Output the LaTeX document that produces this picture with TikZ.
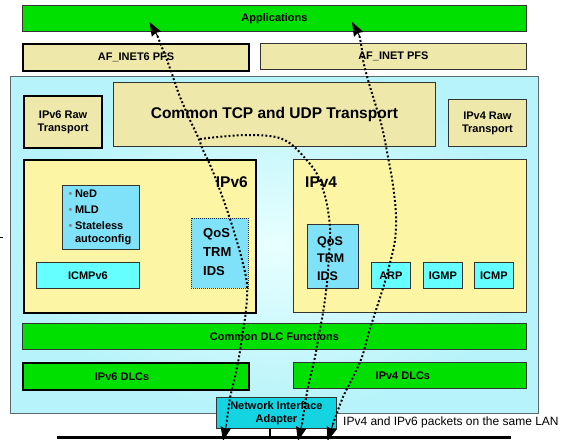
\documentclass[tikz,border=0pt]{standalone}
\usepackage{fontspec}
\setmainfont{Liberation Sans}
\usetikzlibrary{arrows.meta}

\definecolor{layergreen}{HTML}{00E000}
\definecolor{pfstan}{HTML}{EEE8AA}
\definecolor{ipyellow}{HTML}{FCF6A4}
\definecolor{svcblue}{HTML}{80E2F8}
\definecolor{protoaqua}{HTML}{66FFFF}
\definecolor{nicblue}{HTML}{14D4E2}
\definecolor{stackedge}{HTML}{5A6B6B}
\definecolor{stackinner}{HTML}{E8FFFF}
\definecolor{stackouter}{HTML}{B6F3FA}
\definecolor{boxedge}{HTML}{333333}
\definecolor{bulletgray}{HTML}{8A8A8A}
\definecolor{dotnavy}{HTML}{203050}

\newcommand\dotitem{\textcolor{bulletgray}{\char"2022}\hspace{2.5pt}}

\tikzset{
  box/.style={draw=boxedge, line width=0.8pt, inner sep=0pt, anchor=north west,
    align=center, font=\bfseries\fontsize{11}{13}\selectfont},
  heavy/.style={draw=black, line width=2.2pt},
  flow/.style={line width=2pt, dash pattern=on 1.9pt off 2.2pt, black},
  headtip/.style={solid, line width=1pt, draw=black, fill=black,
    -{Stealth[length=14pt, width=10.5pt, inset=1.5pt, fill=black]}},
  textnode/.style={inner sep=0pt, font=\bfseries\fontsize{11}{13}\selectfont},
}

\begin{document}
\begin{tikzpicture}[x=1pt, y=-1pt]
\useasboundingbox (0,0) rectangle (564,439);

% upper layers
\node[box, fill=layergreen, minimum width=504, minimum height=26] (apps) at (22,5) {Applications};
\node[box, heavy, fill=pfstan, minimum width=226, minimum height=27] (af6) at (22,43) {AF\_INET6 PFS};
\node[box, fill=pfstan, minimum width=266, minimum height=26] (af4) at (260,43) {AF\_INET PFS};

% the shared stack
\node[box, draw=stackedge, inner color=stackinner, outer color=stackouter,
      minimum width=528, minimum height=337] (stack) at (10,76) {};

\node[box, heavy, fill=pfstan, minimum width=78, minimum height=52] (raw6) at (23,95) {IPv6 Raw\\Transport};
\node[box, fill=pfstan, minimum width=322, minimum height=64,
      font=\bfseries\fontsize{15.5}{18}\selectfont] (tcp) at (113,82) {Common TCP and UDP Transport};
\node[box, fill=pfstan, minimum width=78, minimum height=47] (raw4) at (448,99) {IPv4 Raw\\Transport};

% IPv6 layer
\node[box, heavy, fill=ipyellow, minimum width=232, minimum height=153] (v6) at (23,159) {};
\node[textnode, anchor=east, font=\bfseries\fontsize{15.5}{18}\selectfont] (v6title) at (248,182) {IPv6};
\node[box, fill=svcblue, minimum width=77, minimum height=64] (nd) at (62,185) {};
\node[textnode, anchor=north west, align=left] (ndlist) at (68.5,189.5)
  {\dotitem NeD\\[3pt]\dotitem MLD\\[3pt]\dotitem Stateless\\\phantom{\dotitem}autoconfig};
\node[box, draw=dotnavy, dash pattern=on 1pt off 1pt, fill=svcblue,
      minimum width=57, minimum height=70] (qos6) at (191,218) {};
\node[textnode, anchor=north west, align=left, font=\bfseries\fontsize{13}{19}\selectfont] (qos6text) at (203,228.5) {QoS\\TRM\\IDS};
\node[box, fill=protoaqua, minimum width=103, minimum height=26] (icmp6) at (36,262) {ICMPv6};

% IPv4 layer
\node[box, fill=ipyellow, minimum width=233, minimum height=153] (v4) at (293,159) {};
\node[textnode, anchor=west, font=\bfseries\fontsize{15.5}{18}\selectfont] (v4title) at (305,182) {IPv4};
\node[box, fill=svcblue, minimum width=51, minimum height=64] (qos4) at (307,224) {};
\node[textnode, anchor=north west, align=left, font=\bfseries\fontsize{12.5}{17.5}\selectfont] (qos4text) at (317,236.5) {QoS\\TRM\\IDS};
\node[box, fill=protoaqua, minimum width=39, minimum height=26] (arp) at (371,262) {ARP};
\node[box, fill=protoaqua, minimum width=39, minimum height=26] (igmp) at (423,262) {IGMP};
\node[box, fill=protoaqua, minimum width=39, minimum height=26] (icmp4) at (474,262) {ICMP};

% data link layer
\node[box, fill=layergreen, minimum width=504, minimum height=26] (dlc) at (22,323) {Common DLC Functions};
\node[box, heavy, fill=layergreen, minimum width=226, minimum height=27,
      label={[textnode, xshift=-14pt]center:IPv6 DLCs}] (dlc6) at (22,362) {};
\node[box, fill=layergreen, minimum width=233, minimum height=26,
      label={[textnode, xshift=-7pt]center:IPv4 DLCs}] (dlc4) at (293,362) {};

% adapter and LAN
\node[box, fill=nicblue, minimum width=120, minimum height=31, font=\bfseries\fontsize{11}{12.5}\selectfont] (nia) at (216,397) {Network Interface\\Adapter};
\coordinate (lanL) at (57,437.5);
\coordinate (lanR) at (511,437.5);
\coordinate (tap) at (270,437.5);
\draw[line width=2.6pt] (lanL) -- (lanR);
\draw[line width=2pt] (nia.south -| tap) -- (tap);
\node[inner sep=0pt, anchor=west, font=\fontsize{12}{14}\selectfont] (lanlabel) at (343,422.5) {IPv4 and IPv6 packets on the same LAN};

% small mark at the left margin
\draw[line width=0.8pt] (0,237) -- (3,237);

% packet paths: end points and the points just before each arrow head
\coordinate (a0) at (149.5,22);  \coordinate (a0pre) at (157.5,36);
\coordinate (a1) at (223,441);   \coordinate (a1pre) at (226.5,424);
\coordinate (fork) at (200,139);
\coordinate (b1) at (298,441);   \coordinate (b1pre) at (302,424);
\coordinate (c0) at (352,22);    \coordinate (c0pre) at (359.5,36);
\coordinate (c1) at (327.5,441); \coordinate (c1pre) at (333,424);

\draw[flow] plot[smooth, tension=0.55] coordinates {
  (a0pre) (163,50) (167,60) (173,77) (180,97) (190,120) (198,137) (203,150)
  (211,167) (221,193) (231,222) (241,256) (247,284) (246,310) (243,331)
  (239,357) (235,377) (230,398) (a1pre)};

\draw[flow] plot[smooth, tension=0.55] coordinates {
  (fork) (223,136.5) (250,135) (276,137) (291,144) (304,157) (317,174)
  (326,200) (330,228) (329,255) (327,283) (323,313) (319,334) (315,357)
  (310,378) (306,398) (b1pre)};

\draw[flow] plot[smooth, tension=0.55] coordinates {
  (c0pre) (362,50) (363,60) (368,80) (375,103) (382,127) (388,157) (393,185)
  (396,215) (395,240) (390,263) (384,285) (376,310) (369,332) (362,357)
  (353,377) (343,397) (c1pre)};

% arrow heads
\draw[headtip] (a0pre) -- (a0);
\draw[headtip] (c0pre) -- (c0);
\draw[headtip] (a1pre) -- (a1);
\draw[headtip] (b1pre) -- (b1);
\draw[headtip] (c1pre) -- (c1);

\end{tikzpicture}
\end{document}
